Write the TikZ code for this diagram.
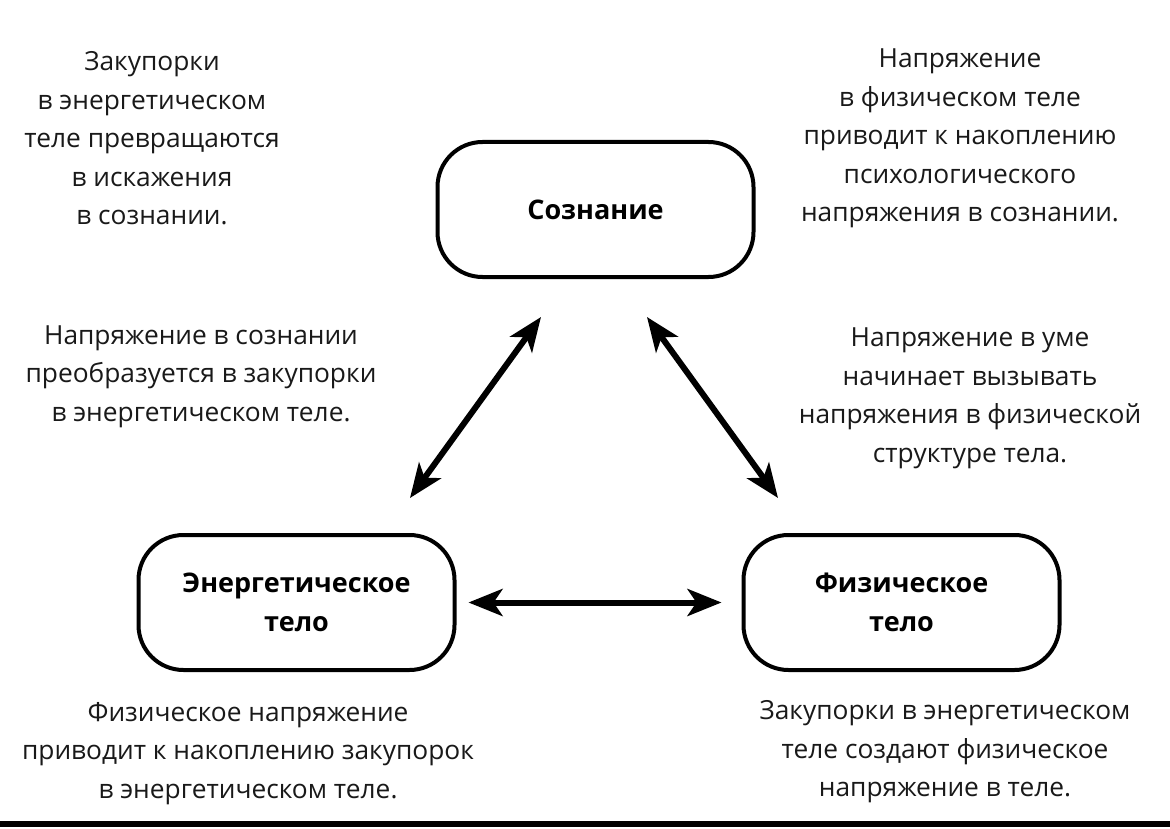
\documentclass[tikz,border=0pt]{standalone}
\usepackage{fontspec}
\setmainfont{Open Sans}
\usetikzlibrary{arrows.meta,calc}
\begin{document}
\begin{tikzpicture}[x=1pt,y=-1pt,
  box/.style={draw=black,line width=4pt,rounded corners=45pt,minimum width=316pt,minimum height=135pt,align=center,font=\fontsize{27}{38.5}\selectfont\bfseries,inner sep=0pt},
  note/.style={align=center,font=\fontsize{26.3}{38.5}\selectfont,inner sep=0pt,text=black!90},
  arr/.style={line width=6pt,{Stealth[length=34pt,width=27pt,inset=9pt]}-{Stealth[length=34pt,width=27pt,inset=9pt]}}]
\useasboundingbox[fill=white] (0,0) rectangle (1170,829);
\fill[black] (0,821) rectangle (1170,827);
\node[box] (S) at (595.5,209.5) {Сознание};
\node[box] (E) at (296.5,602.5) {Энергетическое\\тело};
\node[box] (F) at (901.5,602.5) {Физическое\\тело};
\draw[arr] ($(S.south)+(-54.5,38)$) -- ($(E.north)+(113.5,-35)$);
\draw[arr] ($(S.south)+(51.5,38)$) -- ($(F.north)+(-123.5,-35)$);
\draw[arr] ($(E.east)+(12,0)$) -- ($(F.west)+(-20,0)$);
\node[note] (t1) at (152,138.5) {Закупорки\\в энергетическом\\теле превращаются\\в искажения\\в сознании.};
\node[note] (t2) at (960,138.5) {Напряжение\\в физическом теле\\приводит к накоплению\\психологического\\напряжения в сознании.};
\node[note] (t3) at (201,376.5) {Напряжение в сознании\\преобразуется в закупорки\\в энергетическом теле.};
\node[note] (t4) at (970,398.5) {Напряжение в уме\\начинает вызывать\\напряжения в физической\\структуре тела.};
\node[note] (t5) at (248,753.5) {Физическое напряжение\\приводит к накоплению закупорок\\в энергетическом теле.};
\node[note] (t6) at (945,752) {Закупорки в энергетическом\\теле создают физическое\\напряжение в теле.};
\end{tikzpicture}
\end{document}
